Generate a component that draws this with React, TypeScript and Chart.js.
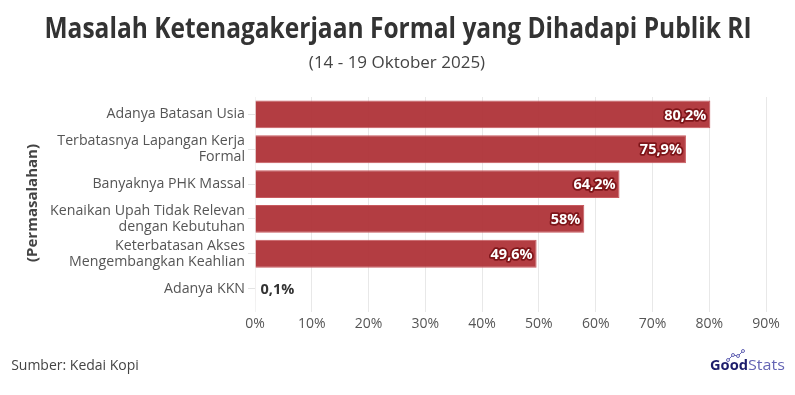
import React, { useEffect, useRef } from "react";
import { Chart, registerables } from "chart.js";

Chart.register(...registerables);

const categories: (string | string[])[] = [
  "Adanya Batasan Usia",
  ["Terbatasnya Lapangan Kerja", "Formal"],
  "Banyaknya PHK Massal",
  ["Kenaikan Upah Tidak Relevan", "dengan Kebutuhan"],
  ["Keterbatasan Akses", "Mengembangkan Keahlian"],
  "Adanya KKN",
];
const values = [80.2, 75.9, 64.2, 58, 49.6, 0.1];
const valueLabels = ["80,2%", "75,9%", "64,2%", "58%", "49,6%", "0,1%"];
const xTicks = [0, 10, 20, 30, 40, 50, 60, 70, 80, 90];

const TITLE = "Masalah Ketenagakerjaan Formal yang Dihadapi Publik RI";
const SUBTITLE = "(14 - 19 Oktober 2025)";
const AXIS_TITLE = "(Permasalahan)";
const SOURCE = "Sumber: Kedai Kopi";

const FONT = "'Open Sans', 'Noto Sans', sans-serif";

function fitText(ctx: CanvasRenderingContext2D, text: string, cx: number, cy: number, width: number) {
  const w = ctx.measureText(text).width;
  const s = Math.min(1, width / w);
  ctx.save();
  ctx.translate(cx, cy);
  ctx.scale(s, 1);
  ctx.textAlign = "center";
  ctx.fillText(text, 0, 0);
  ctx.restore();
}

const decorPlugin = {
  id: "decor",
  afterDraw(chart: any) {
    const ctx: CanvasRenderingContext2D = chart.ctx;
    ctx.save();
    ctx.textBaseline = "middle";
    // title
    ctx.fillStyle = "#333333";
    ctx.font = `bold 28px ${FONT}`;
    fitText(ctx, TITLE, 398, 30, 707);
    ctx.fillStyle = "#444444";
    ctx.font = `17px ${FONT}`;
    fitText(ctx, SUBTITLE, 397, 63, 177);
    // y axis title
    ctx.save();
    ctx.translate(33, 203);
    ctx.rotate(-Math.PI / 2);
    ctx.font = `bold 15px ${FONT}`;
    ctx.fillStyle = "#444444";
    ctx.textAlign = "center";
    ctx.fillText(AXIS_TITLE, 0, 0);
    ctx.restore();
    // source
    ctx.font = `14px ${FONT}`;
    ctx.fillStyle = "#444444";
    fitText(ctx, SOURCE, 75, 366, 131);
    // logo
    ctx.textAlign = "left";
    ctx.font = `bold 15px ${FONT}`;
    ctx.fillStyle = "#1c1c6b";
    const gw = ctx.measureText("Good").width;
    ctx.save();
    ctx.translate(710, 366);
    ctx.scale(38 / gw, 1);
    ctx.fillText("Good", 0, 0);
    ctx.restore();
    ctx.font = `14px ${FONT}`;
    ctx.fillStyle = "#6464b4";
    const sw = ctx.measureText("Stats").width;
    ctx.save();
    ctx.translate(748, 366);
    ctx.scale(37 / sw, 1);
    ctx.fillText("Stats", 0, 0);
    ctx.restore();
    // logo icon
    ctx.strokeStyle = "#6464b4";
    ctx.lineWidth = 1;
    const pts = [[728, 360], [733, 355], [738, 356], [743, 351]];
    ctx.beginPath();
    pts.forEach((p, i) => (i === 0 ? ctx.moveTo(p[0], p[1]) : ctx.lineTo(p[0], p[1])));
    ctx.stroke();
    pts.forEach((p) => {
      ctx.beginPath();
      ctx.arc(p[0], p[1], 1.5, 0, Math.PI * 2);
      ctx.fillStyle = "#ffffff";
      ctx.fill();
      ctx.stroke();
    });
    // data labels
    const meta = chart.getDatasetMeta(0);
    ctx.font = `bold 14.5px ${FONT}`;
    meta.data.forEach((bar: any, i: number) => {
      const label = valueLabels[i];
      const y = bar.y;
      const base = bar.base;
      const tw = ctx.measureText(label).width;
      if (bar.x - base > tw + 12) {
        ctx.textAlign = "right";
        ctx.lineJoin = "round";
        ctx.strokeStyle = "#7e1519";
        ctx.lineWidth = 3.5;
        ctx.strokeText(label, bar.x - 4, y + 1);
        ctx.fillStyle = "#ffffff";
        ctx.fillText(label, bar.x - 4, y + 1);
      } else {
        ctx.textAlign = "left";
        ctx.fillStyle = "#333333";
        ctx.fillText(label, bar.x + 5, y + 1);
      }
    });
    ctx.restore();
  },
};

export default function App() {
  const ref = useRef<HTMLCanvasElement>(null);
  useEffect(() => {
    document.body.style.margin = "0";
    const chart = new Chart(ref.current!, {
      type: "bar",
      data: {
        labels: categories,
        datasets: [
          {
            data: values,
            backgroundColor: "rgba(172, 44, 50, 0.92)",
            borderColor: "rgba(200, 90, 95, 1)",
            borderWidth: 1,
            categoryPercentage: 1,
            barPercentage: 0.8,
          },
        ],
      },
      options: {
        indexAxis: "y",
        animation: false,
        responsive: false,
        maintainAspectRatio: false,
        layout: { padding: { top: 97, right: 29, bottom: 59, left: 0 } },
        plugins: { legend: { display: false }, tooltip: { enabled: false } },
        scales: {
          x: {
            min: 0,
            max: 90,
            afterBuildTicks: (s: any) => {
              s.ticks = xTicks.map((v) => ({ value: v }));
            },
            afterFit: (s: any) => {
              s.height = 30;
            },
            grid: {
              color: (c: any) => (c.index === 0 ? "rgba(230,230,230,0.5)" : "#e8e8e8"),
              tickLength: 6,
              lineWidth: 1,
            },
            border: { display: false },
            ticks: {
              color: "#555555",
              font: { family: FONT, size: 14 },
              padding: 4,
              callback: (v: any) => `${v}%`,
            },
          },
          y: {
            afterFit: (s: any) => {
              s.width = 255;
            },
            grid: { display: true, offset: false, drawOnChartArea: false, color: "#e3e3e3", tickLength: 7 },
            border: { display: false },
            ticks: {
              autoSkip: false,
              color: "#555555",
              font: { family: FONT, size: 14.2, lineHeight: 1.15 },
              padding: 3,
            },
          },
        },
      },
      plugins: [decorPlugin],
    });
    return () => chart.destroy();
  }, []);
  return (
    <div style={{ position: "absolute", left: 0, top: 0, width: 795, height: 395, background: "#fff" }}>
      <canvas ref={ref} width={795} height={395} style={{ width: 795, height: 395 }} />
    </div>
  );
}
